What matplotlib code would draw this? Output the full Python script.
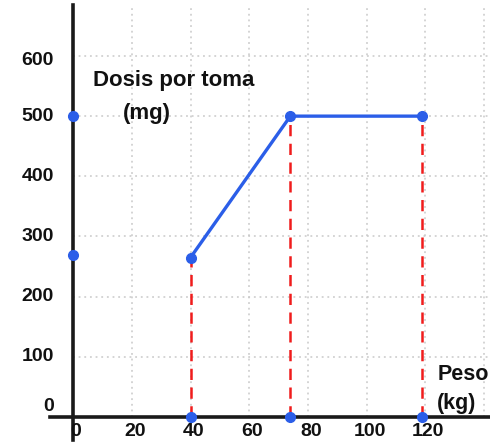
import matplotlib.pyplot as plt

plt.rcParams['font.family'] = ['Liberation Sans', 'DejaVu Sans']

# data
peso = [40, 74, 119]
dosis = [265, 500, 500]
y_axis_marks = [500, 270]
x_ticks = [0, 20, 40, 60, 80, 100, 120]
y_ticks = [0, 100, 200, 300, 400, 500, 600]
grid_x = [20, 40, 60, 80, 100, 120, 140]
grid_y = [100, 200, 300, 400, 500, 600]

blue = '#2b5ee8'
red = '#f01c1c'

fig = plt.figure(figsize=(4.9, 4.48), dpi=100)
ax = fig.add_axes([0, 0, 1, 1])
ax.set_xlim(-24.9, 142)
ax.set_ylim(-51.5, 693)
ax.axis('off')

# dotted grid, positive quadrant only
for gx in grid_x:
    ax.plot([gx, gx], [0, 680], color='#c9c9c9', lw=1.1, ls=(0, (1.2, 2.5)), zorder=1)
for gy in grid_y:
    ax.plot([0, 142], [gy, gy], color='#c9c9c9', lw=1.1, ls=(0, (1.2, 2.5)), zorder=1)

# axes
ax.plot([0, 0], [-38, 685], color='#1a1a1a', lw=2.6, zorder=3)
ax.plot([-8, 142], [0, 0], color='#1a1a1a', lw=2.6, zorder=3)

# red dashed drop lines
for px, py in zip(peso, dosis):
    ax.plot([px, px], [0, py], color=red, lw=1.8, ls=(0, (4.5, 3)), zorder=2)

# blue curve
ax.plot(peso, dosis, color=blue, lw=2.4, zorder=4)
ax.plot(peso, dosis, 'o', color=blue, ms=7, zorder=5)
ax.plot(peso, [0] * len(peso), 'o', color=blue, ms=7, zorder=5)
ax.plot([0] * len(y_axis_marks), y_axis_marks, 'o', color=blue, ms=7, zorder=5)

# tick labels
for t in x_ticks:
    ax.text(t + 1, -24, str(t), ha='center', va='center', fontsize=14,
            fontweight='bold', color='#111111')
for t in y_ticks:
    yy = t + 18 if t == 0 else t - 8 if t == 600 else t
    ax.text(-6.5, yy, str(t), ha='right', va='center', fontsize=14,
            fontweight='bold', color='#111111')

ax.text(6.8, 560, 'Dosis por toma', ha='left', va='center', fontsize=16,
        fontweight='bold', color='#111111')
ax.text(25, 504, '(mg)', ha='center', va='center', fontsize=16,
        fontweight='bold', color='#111111')
ax.text(124, 70, 'Peso', ha='left', va='center', fontsize=15.5,
        fontweight='bold', color='#111111')
ax.text(124, 22, '(kg)', ha='left', va='center', fontsize=15.5,
        fontweight='bold', color='#111111')

fig.savefig('out.png', dpi=100)
